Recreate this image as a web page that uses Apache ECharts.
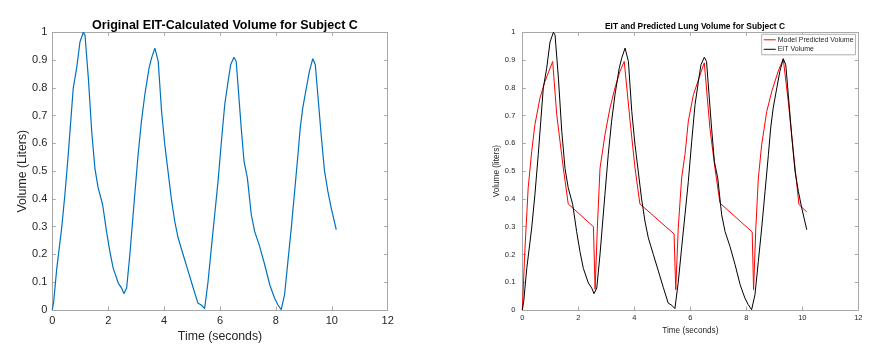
<!DOCTYPE html>
<html><head><meta charset="utf-8">
<script src="https://cdn.jsdelivr.net/npm/echarts@6/dist/echarts.min.js"></script>
<style>html,body{margin:0;padding:0;background:#fff}#c{width:883px;height:358px}</style>
</head><body><div id="c"></div>
<script>
const xTicks = [0, 2, 4, 6, 8, 10, 12];
const yTicks = [0, 0.1, 0.2, 0.3, 0.4, 0.5, 0.6, 0.7, 0.8, 0.9, 1];

const eitTime = [0,0.05,0.16,0.335,0.45,0.57,0.66,0.75,0.87,0.99,1.11,1.17,1.29,1.41,1.525,1.64,1.80,1.94,2.06,2.18,2.36,2.48,2.56,2.66,2.775,2.95,3.07,3.19,3.31,3.46,3.55,3.67,3.79,3.91,4.025,4.14,4.26,4.38,4.5,4.68,4.86,5.04,5.21,5.34,5.45,5.57,5.69,5.81,5.93,6.05,6.17,6.29,6.38,6.5,6.58,6.67,6.76,6.86,6.98,7.12,7.24,7.42,7.6,7.78,7.95,8.07,8.19,8.31,8.43,8.55,8.67,8.79,8.87,8.96,9.09,9.2,9.32,9.41,9.5,9.62,9.74,9.86,9.98,10.16];
const eitVolume = [0,0.03,0.15,0.295,0.415,0.56,0.68,0.80,0.87,0.965,1.0,0.99,0.835,0.643,0.51,0.44,0.38,0.283,0.21,0.15,0.097,0.079,0.059,0.079,0.2,0.415,0.56,0.68,0.775,0.87,0.907,0.943,0.895,0.715,0.595,0.50,0.40,0.32,0.26,0.20,0.14,0.08,0.025,0.017,0.005,0.10,0.223,0.343,0.463,0.607,0.74,0.823,0.883,0.91,0.895,0.775,0.655,0.535,0.475,0.343,0.283,0.228,0.163,0.091,0.043,0.019,0.001,0.055,0.175,0.295,0.427,0.56,0.655,0.727,0.80,0.86,0.905,0.883,0.775,0.63,0.50,0.427,0.367,0.289];

const modelTime = [0,0.096,0.21,0.335,0.45,0.63,0.81,1.085,1.23,1.465,1.64,2.54,2.6,2.68,2.775,2.95,3.13,3.31,3.49,3.64,3.85,4.025,4.2,5.42,5.48,5.57,5.69,5.81,5.93,6.11,6.35,6.5,6.70,6.88,7.06,8.21,8.26,8.34,8.43,8.55,8.73,8.91,9.14,9.32,9.5,9.68,9.88,10.16];
const modelVolume = [0,0.223,0.44,0.57,0.667,0.763,0.823,0.895,0.703,0.511,0.382,0.30,0.075,0.295,0.51,0.63,0.727,0.80,0.86,0.895,0.68,0.511,0.382,0.274,0.073,0.295,0.475,0.56,0.68,0.775,0.847,0.89,0.655,0.511,0.385,0.281,0.073,0.295,0.475,0.595,0.715,0.787,0.86,0.904,0.75,0.57,0.38,0.353];

const eitPairs = eitTime.map((t, i) => [t, eitVolume[i]]);
const modelPairs = modelTime.map((t, i) => [t, modelVolume[i]]);

const FONT = '"Liberation Sans", Arial, Helvetica, sans-serif';
const AX = '#a8a8a8';
const TXT = '#262626';
const xMin = xTicks[0], xMax = xTicks[xTicks.length-1], xInt = xTicks[1]-xTicks[0];
const yMin = yTicks[0], yMax = yTicks[yTicks.length-1], yInt = 0.1;

function xAx(grid, pos, fs, margin, name, nameGap, nfs) {
  return {
    type: 'value', gridIndex: grid, position: pos, min: xMin, max: xMax, interval: xInt,
    axisLine: {show: true, onZero: false, lineStyle: {color: AX, width: 1}},
    axisTick: {show: true, inside: true, length: 3.5, lineStyle: {color: AX}},
    axisLabel: {show: pos === 'bottom', color: TXT, fontSize: fs, margin: margin, fontFamily: FONT},
    splitLine: {show: false},
    name: pos === 'bottom' ? name : '', nameLocation: 'middle', nameGap: nameGap,
    nameTextStyle: {color: TXT, fontSize: nfs, fontFamily: FONT}
  };
}
function yAx(grid, pos, fs, margin, name, nameGap, nfs) {
  return {
    type: 'value', gridIndex: grid, position: pos, min: yMin, max: yMax, interval: yInt,
    axisLine: {show: true, onZero: false, lineStyle: {color: AX, width: 1}},
    axisTick: {show: true, inside: true, length: 3.5, lineStyle: {color: AX}},
    axisLabel: {show: pos === 'left', color: TXT, fontSize: fs, margin: margin, fontFamily: FONT,
      formatter: v => String(Math.round(v * 10) / 10)},
    splitLine: {show: false},
    name: pos === 'left' ? name : '', nameLocation: 'middle', nameGap: nameGap, nameRotate: 90,
    nameTextStyle: {color: TXT, fontSize: nfs, fontFamily: FONT}
  };
}

const chart = echarts.init(document.getElementById('c'), null, {renderer: 'canvas'});
chart.setOption({
  backgroundColor: '#fff',
  animation: false,
  title: [
    {text: 'Original EIT-Calculated Volume for Subject C', left: 220, top: 14, textAlign: 'center',
     textStyle: {fontSize: 12.5, fontWeight: 'bold', color: '#000', fontFamily: FONT}},
    {text: 'EIT and Predicted Lung Volume for Subject C', left: 690, top: 18, textAlign: 'center',
     textStyle: {fontSize: 8.4, fontWeight: 'bold', color: '#000', fontFamily: FONT}}
  ],
  grid: [
    {left: 52.3, width: 335.4, top: 32.3, height: 277.7},
    {left: 522.3, width: 336, top: 32.3, height: 277.7}
  ],
  xAxis: [
    xAx(0, 'bottom', 11, 5, 'Time (seconds)', 20, 12.3),
    xAx(0, 'top', 11, 5, '', 0, 12),
    xAx(1, 'bottom', 7.5, 4, 'Time (seconds)', 16, 8.2),
    xAx(1, 'top', 7.5, 4, '', 0, 8)
  ],
  yAxis: [
    yAx(0, 'left', 11, 5, 'Volume (Liters)', 23, 12.3),
    yAx(0, 'right', 11, 5, '', 0, 12),
    yAx(1, 'left', 7.5, 7, 'Volume (liters)', 16, 8.2),
    yAx(1, 'right', 7.5, 7, '', 0, 8)
  ],
  legend: {
    orient: 'vertical', left: 761.7, top: 34.3,
    data: ['Model Predicted Volume', 'EIT Volume'],
    icon: 'rect', itemWidth: 12, itemHeight: 1, itemGap: 2.5,
    padding: [2, 2, 2, 2],
    backgroundColor: '#fff', borderColor: '#b0b0b0', borderWidth: 1,
    textStyle: {fontSize: 7, color: TXT, fontFamily: FONT, padding: [0, 0, 0, -3]}
  },
  series: [
    {type: 'line', name: 'EIT', xAxisIndex: 0, yAxisIndex: 0, data: eitPairs, showSymbol: false,
     lineStyle: {color: '#0072BD', width: 1.2}, itemStyle: {color: '#0072BD'}},
    {type: 'line', name: 'Model Predicted Volume', xAxisIndex: 2, yAxisIndex: 2, data: modelPairs, showSymbol: false,
     lineStyle: {color: '#ff0000', width: 1}, itemStyle: {color: '#ff0000'}},
    {type: 'line', name: 'EIT Volume', xAxisIndex: 2, yAxisIndex: 2, data: eitPairs, showSymbol: false,
     lineStyle: {color: '#000000', width: 1}, itemStyle: {color: '#000000'}}
  ]
});
</script></body></html>
